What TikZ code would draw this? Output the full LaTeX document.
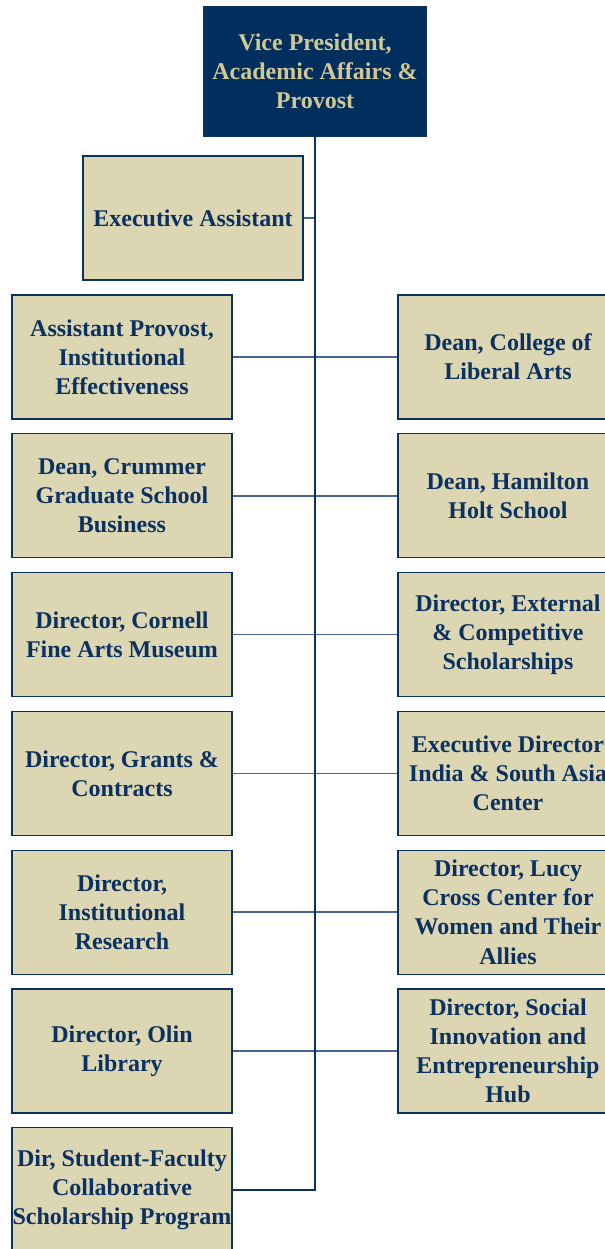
\documentclass[tikz,border=0pt]{standalone}
\usepackage{fontspec}
\setmainfont{Liberation Serif}
\usepackage{tikz}
\usetikzlibrary{calc}
\definecolor{navy}{HTML}{0B3161}
\definecolor{tan}{HTML}{DCD6B3}
\definecolor{vpfill}{HTML}{002E5D}
\definecolor{vptext}{HTML}{D3C893}
\definecolor{linkblue}{HTML}{45668F}
\tikzstyle{orgbox}=[draw=navy, line width=0.8pt, fill=tan, text=navy, font=\bfseries\fontsize{18}{21.8}\selectfont, align=center, minimum width=165pt, minimum height=93pt, inner sep=0pt]
\tikzstyle{vpbox}=[orgbox, fill=vpfill, text=vptext, minimum width=166.5pt, minimum height=98pt]
\tikzstyle{trunk}=[draw=navy, line width=1.4pt]
\tikzstyle{branch}=[draw=linkblue, line width=1.1pt]

\begin{document}
\begin{tikzpicture}[x=0.75pt,y=-0.75pt]
\useasboundingbox (0,0) rectangle (605,1249);
\clip (0,0) rectangle (605,1249);
\node[vpbox] (vp) at (315,71.5) {Vice President,\\Academic Affairs \&\\Provost};
\node[orgbox] (ea) at (193,218) {Executive Assistant};
% left column
\foreach \n/\txt in {1/{Assistant Provost,\\Institutional\\Effectiveness},
	2/{Dean, Crummer\\Graduate School\\Business},
	3/{Director, Cornell\\Fine Arts Museum},
	4/{Director, Grants \&\\Contracts},
	5/{Director,\\Institutional\\Research},
	6/{Director, Olin\\Library},
	7/{Dir, Student-Faculty\\Collaborative\\Scholarship Program}} {
	\node[orgbox] (l\n) at (122, 357+138.8*\n-138.8) {\txt};
}
% right column
\foreach \n/\txt in {1/{Dean, College of\\Liberal Arts},
	2/{Dean, Hamilton\\Holt School},
	3/{Director, External\\\& Competitive\\Scholarships},
	4/{Executive Director\\India \& South Asia\\Center},
	5/{Director, Lucy\\Cross Center for\\Women and Their\\Allies},
	6/{Director, Social\\Innovation and\\Entrepreneurship\\Hub}} {
	\node[orgbox] (r\n) at (508, 357+138.8*\n-138.8) {\txt};
	\draw[branch] (l\n.east) -- (r\n.west);
}
\draw[branch] (ea.east) -- (ea.east -| vp.south);
\draw[trunk] (vp.south) |- (l7.east);
\end{tikzpicture}
\end{document}
